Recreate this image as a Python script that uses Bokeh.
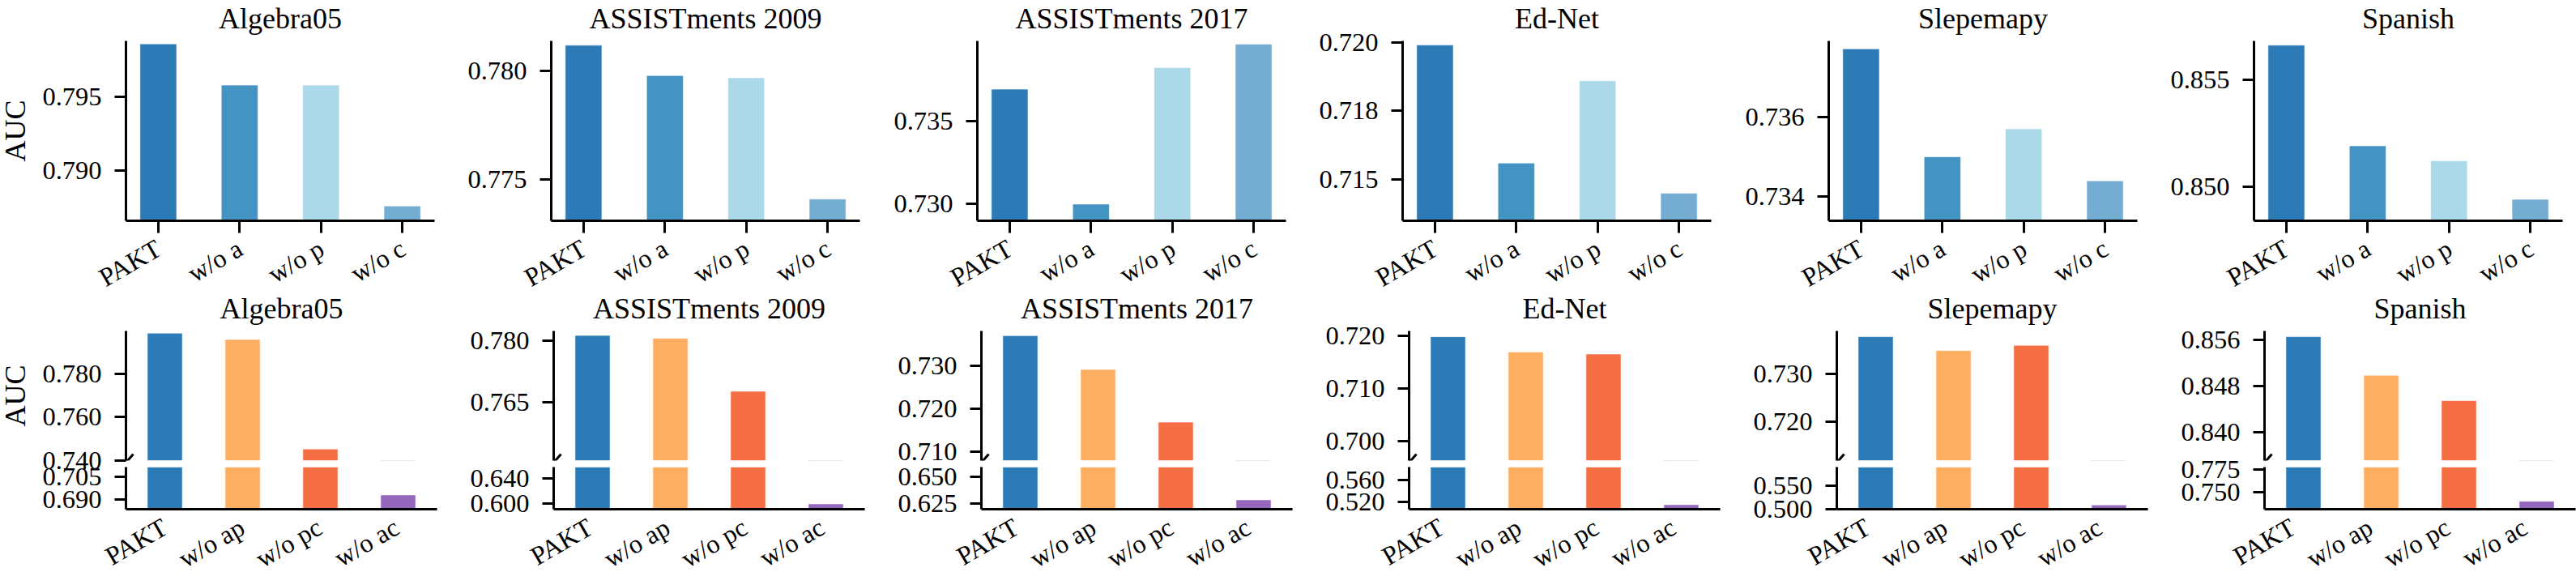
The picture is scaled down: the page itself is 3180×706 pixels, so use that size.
import math

from bokeh.core.properties import value
from bokeh.embed import file_html
from bokeh.layouts import column, row
from bokeh.models import Arrow, ColumnDataSource, FixedTicker, PrintfTickFormatter, Range1d
from bokeh.plotting import figure
from bokeh.resources import INLINE

datasets = ["Algebra05", "ASSISTments 2009", "ASSISTments 2017", "Ed-Net", "Slepemapy", "Spanish"]

single_variants = ["PAKT", "w/o a", "w/o p", "w/o c"]
pair_variants = ["PAKT", "w/o ap", "w/o pc", "w/o ac"]

single_colors = ["#2c7bb6", "#4393c3", "#abd9e9", "#74add1"]
pair_colors = ["#2c7bb6", "#fdae61", "#f46d43", "#9467bd"]

# AUC, one component removed
single_algebra05 = [0.7986, 0.7958, 0.7958, 0.7876]
single_assist09 = [0.7812, 0.7798, 0.7797, 0.7741]
single_assist17 = [0.7369, 0.7300, 0.7382, 0.7396]
single_ednet = [0.7199, 0.7156, 0.7186, 0.7145]
single_slepemapy = [0.7377, 0.7350, 0.7357, 0.7344]
single_spanish = [0.8566, 0.8519, 0.8512, 0.8494]

# AUC, two components removed
pair_algebra05 = [0.7986, 0.7957, 0.7453, 0.6932]
pair_assist09 = [0.7812, 0.7805, 0.7676, 0.5991]
pair_assist17 = [0.7369, 0.7291, 0.7169, 0.6283]
pair_ednet = [0.7199, 0.7170, 0.7166, 0.5145]
pair_slepemapy = [0.7377, 0.7348, 0.7359, 0.5086]
pair_spanish = [0.8566, 0.8499, 0.8455, 0.7403]

# top row: y limits and ticks
single_ylims = [(0.7866, 0.7988), (0.7731, 0.7814), (0.7290, 0.7398),
                (0.7135, 0.72005), (0.7334, 0.7379), (0.8484, 0.8568)]
single_ticks = [[0.790, 0.795], [0.775, 0.780], [0.730, 0.735],
                [0.715, 0.7175, 0.720], [0.734, 0.736], [0.850, 0.855]]

# bottom row: broken y axis, upper and lower segments
upper_ylims = [(0.73995, 0.7996), (0.7507, 0.7823), (0.7080, 0.7380),
               (0.6963, 0.7210), (0.7118, 0.7389), (0.8351, 0.8576)]
upper_ticks = [[0.740, 0.760, 0.780], [0.765, 0.780], [0.710, 0.720, 0.730],
               [0.700, 0.710, 0.720], [0.720, 0.730], [0.840, 0.848, 0.856]]
lower_ylims = [(0.6838, 0.7116), (0.5906, 0.6581), (0.6194, 0.6595),
               (0.5060, 0.5846), (0.4995, 0.5893), (0.7316, 0.7776)]
lower_ticks = [[0.690, 0.705], [0.600, 0.640], [0.625, 0.650],
               [0.520, 0.560], [0.500, 0.550], [0.750, 0.775]]

single_values = [single_algebra05, single_assist09, single_assist17,
                 single_ednet, single_slepemapy, single_spanish]
pair_values = [pair_algebra05, pair_assist09, pair_assist17,
               pair_ednet, pair_slepemapy, pair_spanish]

FONT = "Liberation Serif"
TICK_SIZE = "32.5px"
TITLE_SIZE = "36px"

# geometry (pixels)
FRAME_W = 384
TOP_FRAME_Y = 50
TOP_H = 222
UPPER_FRAME_Y = 408
UPPER_H = 160
LOWER_H = 52
GAP = 8
BORDER_TOP = 80
TOP_BORDER_BOTTOM = 70
UPPER_BORDER_BOTTOM = 24
LOWER_BORDER_TOP = 24
LOWER_BORDER_BOTTOM = 60
LEFT_FIRST = 170
LEFT_OTHER = 143
SHIFT_LEFT = 15
PAGE_H = 706
BAR_W = 0.45
TITLE_STANDOFF = 16

# slanted category names: strip below each panel
STRIP_EXT = 100
TOP_STRIP_H = 100
XLABEL_DX = -8
XLABEL_DY_TOP = 16
XLABEL_DY_BOTTOM = 4

TOP_XLIM = (-0.3975, 3.3975)
BOTTOM_XLIM = (-0.5, 3.5)


def style_axis(ax, tick_out):
    ax.axis_line_width = 3
    ax.axis_line_color = "black"
    ax.major_tick_line_width = 3
    ax.major_tick_line_color = "black"
    ax.major_tick_in = 0
    ax.major_tick_out = tick_out
    ax.minor_tick_in = 0
    ax.minor_tick_out = 0
    ax.major_label_text_font = FONT
    ax.major_label_text_font_size = TICK_SIZE
    ax.major_label_text_color = "black"
    ax.axis_label_text_font = FONT
    ax.axis_label_text_font_size = TITLE_SIZE
    ax.axis_label_text_font_style = "normal"
    ax.axis_label_text_color = "black"


def make_panel(i, frame_h, ylim, ticks, xlim, values, colors,
               border_top, border_bottom, title=None, x_axis=True,
               xtick_out=15, ylabel=None):
    kwargs = {}
    if title is not None:
        kwargs["title"] = title
    p = figure(frame_width=FRAME_W, frame_height=frame_h,
               x_range=Range1d(*xlim), y_range=Range1d(*ylim),
               min_border_left=LEFT_FIRST if i == 0 else LEFT_OTHER,
               min_border_right=1, min_border_top=border_top,
               min_border_bottom=border_bottom,
               x_axis_location="below" if x_axis else None,
               toolbar_location=None, output_backend="svg", **kwargs)
    p.outline_line_color = None
    p.xgrid.grid_line_color = None
    p.ygrid.grid_line_color = None
    p.border_fill_color = None
    p.background_fill_color = "white"

    if title is not None:
        p.title.text_font = FONT
        p.title.text_font_size = TITLE_SIZE
        p.title.text_font_style = "normal"
        p.title.text_color = "black"
        p.title.align = "center"
        p.title.standoff = TITLE_STANDOFF

    xs = list(range(len(values)))
    src = ColumnDataSource(dict(x=xs, top=values, color=colors))
    p.vbar(x="x", top="top", bottom=0, width=BAR_W, source=src,
           fill_color="color", line_color="white", line_width=1, line_alpha=0.6)

    yax = p.yaxis[0]
    style_axis(yax, 14)
    yax.ticker = FixedTicker(ticks=ticks)
    yax.formatter = PrintfTickFormatter(format="%.3f")
    yax.major_label_standoff = 16
    if ylabel:
        yax.axis_label = ylabel
        yax.axis_label_standoff = 10

    if x_axis:
        xax = p.xaxis[0]
        style_axis(xax, xtick_out)
        xax.ticker = FixedTicker(ticks=xs)
        xax.major_label_overrides = {k: "" for k in xs}
        xax.major_label_text_font_size = "0px"
        if xtick_out == 0:
            xax.major_tick_line_color = None
    return p


def make_strip(i, xlim, names, height, dy):
    # category names under the axis; one y unit is one pixel below the axis line
    per_px = (xlim[1] - xlim[0]) / FRAME_W
    p = figure(frame_width=FRAME_W + STRIP_EXT, frame_height=height,
               x_range=Range1d(xlim[0] - STRIP_EXT * per_px, xlim[1]),
               y_range=Range1d(-height, 0),
               min_border_left=(LEFT_FIRST if i == 0 else LEFT_OTHER) - STRIP_EXT,
               min_border_right=1, min_border_top=0, min_border_bottom=0,
               x_axis_location=None, y_axis_location=None,
               toolbar_location=None, output_backend="svg")
    p.outline_line_color = None
    p.border_fill_color = None
    p.background_fill_color = None
    p.grid.grid_line_color = None
    xs = list(range(len(names)))
    src = ColumnDataSource(dict(x=[k + XLABEL_DX * per_px for k in xs],
                                y=[-dy] * len(xs), text=names))
    p.text(x="x", y="y", text="text", source=src, angle=math.pi / 6,
           text_align="right", text_baseline="top",
           text_font=value(FONT), text_font_size=value(TICK_SIZE),
           text_color="black")
    return p


def add_break(p, xlim, ylim, frame_h, top_px, bottom_px, ref):
    # slanted stroke across the gap between the two axis segments
    x0, x1 = xlim
    y0, y1 = ylim
    ux = (x1 - x0) / FRAME_W
    uy = (y1 - y0) / frame_h
    base = y0 if ref == "bottom" else y1
    p.add_layout(Arrow(end=None,
                       x_start=x0 + 9 * ux, y_start=base + top_px * uy,
                       x_end=x0 - 9 * ux, y_end=base - bottom_px * uy,
                       line_width=3, line_color="black"))


top_figs = []
top_strips = []
for i, name in enumerate(datasets):
    top_figs.append(make_panel(
        i, TOP_H, single_ylims[i], single_ticks[i], TOP_XLIM,
        single_values[i], single_colors, BORDER_TOP, TOP_BORDER_BOTTOM,
        title=name, ylabel="AUC" if i == 0 else None))
    top_strips.append(make_strip(i, TOP_XLIM, single_variants, TOP_STRIP_H, XLABEL_DY_TOP))

lower_frame_y = UPPER_FRAME_Y + UPPER_H + GAP
upper_end = UPPER_FRAME_Y + UPPER_H + UPPER_BORDER_BOTTOM
lower_shift = (lower_frame_y - LOWER_BORDER_TOP) - upper_end
bottom_strip_h = PAGE_H - (lower_frame_y + LOWER_H)

bottom_cols = []
bottom_strips = []
for i, name in enumerate(datasets):
    up = make_panel(i, UPPER_H, upper_ylims[i], upper_ticks[i], BOTTOM_XLIM,
                    pair_values[i], pair_colors, BORDER_TOP, UPPER_BORDER_BOTTOM,
                    title=name, x_axis=False, ylabel="AUC" if i == 0 else None)
    lo = make_panel(i, LOWER_H, lower_ylims[i], lower_ticks[i], BOTTOM_XLIM,
                    pair_values[i], pair_colors, LOWER_BORDER_TOP, LOWER_BORDER_BOTTOM,
                    xtick_out=0)
    lo.margin = (lower_shift, 0, 0, 0)
    add_break(up, BOTTOM_XLIM, upper_ylims[i], UPPER_H, 8, 13, "bottom")
    add_break(lo, BOTTOM_XLIM, lower_ylims[i], LOWER_H, 16, 5, "top")
    bottom_cols.append(column(up, lo, spacing=0))
    bottom_strips.append(make_strip(i, BOTTOM_XLIM, pair_variants, bottom_strip_h, XLABEL_DY_BOTTOM))

# vertical stacking: each row overlaps the previous one with transparent borders
y = TOP_FRAME_Y - BORDER_TOP
m_top = y
y += BORDER_TOP + TOP_H + TOP_BORDER_BOTTOM
strip_top = TOP_FRAME_Y + TOP_H
m_strip_top = strip_top - y
y = strip_top + TOP_STRIP_H
bottom_top = UPPER_FRAME_Y - BORDER_TOP
m_bottom = bottom_top - y
y = lower_frame_y + LOWER_H + LOWER_BORDER_BOTTOM
strip_bottom = lower_frame_y + LOWER_H
m_strip_bottom = strip_bottom - y

rows = [
    row(*top_figs, spacing=0, margin=(m_top, 0, 0, -SHIFT_LEFT)),
    row(*top_strips, spacing=0, margin=(m_strip_top, 0, 0, -SHIFT_LEFT)),
    row(*bottom_cols, spacing=0, margin=(m_bottom, 0, 0, -SHIFT_LEFT)),
    row(*bottom_strips, spacing=0, margin=(m_strip_bottom, 0, 0, -SHIFT_LEFT)),
]
root = column(*rows, spacing=0, width=3180, height=PAGE_H,
              styles={"overflow": "hidden"})

open("out.html", "w").write(file_html(root, INLINE))
